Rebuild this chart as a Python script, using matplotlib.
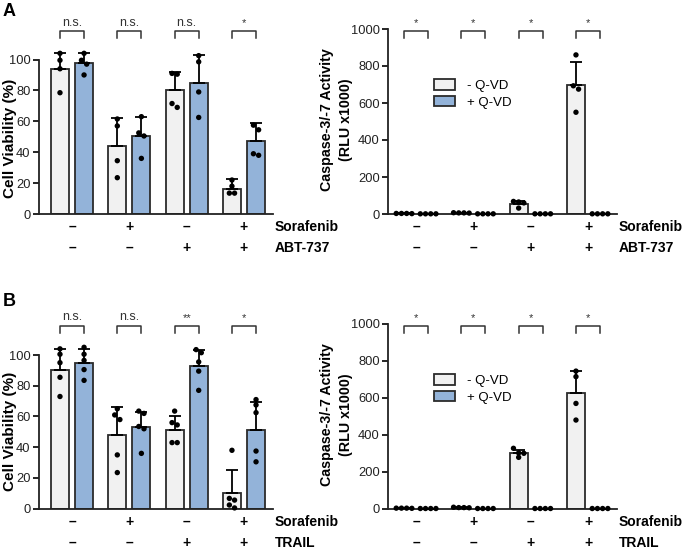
import matplotlib
matplotlib.use('Agg')
import matplotlib.pyplot as plt
from matplotlib.patches import Patch
import numpy as np

plt.rcParams['font.family'] = ['Liberation Sans', 'DejaVu Sans']

# ---------------- data ----------------
groups = 4
a_sorafenib = ['–', '+', '–', '+']
a_abt737 = ['–', '–', '+', '+']
b_sorafenib = ['–', '+', '–', '+']
b_trail = ['–', '–', '+', '+']

# Panel A, cell viability (%)
a_via_mean_neg = [94, 44, 80, 16]
a_via_sd_neg = [10, 18, 12, 6.5]
a_via_pts_neg = [[104, 99.5, 94, 78.5], [61.5, 57, 34.5, 23.5],
                 [91, 90.5, 71.5, 69], [22, 18, 13.5, 13.5]]
a_via_mean_pos = [97.5, 50.5, 85, 47]
a_via_sd_pos = [6.5, 12, 18, 12]
a_via_pts_pos = [[104, 99.5, 97, 90], [63, 52.5, 50.5, 36],
                 [102.5, 98.5, 79, 62.5], [57.5, 54.5, 39, 38]]
a_via_sig = ['n.s.', 'n.s.', 'n.s.', '*']

# Panel A, caspase-3/-7 activity (RLU x1000)
a_cas_mean_neg = [3, 6, 54, 695]
a_cas_sd_neg = [1, 2, 17, 128]
a_cas_pts_neg = [[3, 3, 2, 3], [7, 6, 5, 6], [68, 65, 60, 32], [860, 693, 675, 550]]
a_cas_mean_pos = [1, 1, 1, 1]
a_cas_sd_pos = [0, 0, 0, 0]
a_cas_pts_pos = [[1, 1, 1, 1], [1, 1, 1, 1], [1, 1, 1, 1], [1, 1, 1, 1]]
a_cas_sig = ['*', '*', '*', '*']

# Panel B, cell viability (%)
b_via_mean_neg = [90, 48, 51.5, 10.5]
b_via_sd_neg = [14, 18, 9, 15]
b_via_pts_neg = [[104, 100.5, 95, 85.5, 73], [65, 61, 58, 35, 23.5],
                 [63.5, 56, 54.5, 43, 43], [38, 6.7, 5.6, 2.4, 0.5]]
b_via_mean_pos = [95, 53, 93, 51.5]
b_via_sd_pos = [9, 10, 10, 18]
b_via_pts_pos = [[105, 100.5, 96.5, 90.5, 83.5], [63.5, 62, 53.5, 52, 36],
                 [103.5, 101.5, 95.5, 89.5, 77], [71, 67.5, 62.5, 37.5, 30.5]]
b_via_sig = ['n.s.', 'n.s.', '**', '*']

# Panel B, caspase-3/-7 activity (RLU x1000)
b_cas_mean_neg = [3, 6, 300, 627]
b_cas_sd_neg = [1, 2, 18, 117]
b_cas_pts_neg = [[3, 3, 2, 3], [8, 6, 5, 6], [327, 302, 300, 278], [745, 715, 570, 480]]
b_cas_mean_pos = [1, 1, 1, 1]
b_cas_sd_pos = [0, 0, 0, 0]
b_cas_pts_pos = [[1, 1, 1, 1], [1, 1, 1, 1], [1, 1, 1, 1], [1, 1, 1, 1]]
b_cas_sig = ['*', '*', '*', '*']

legend_labels = ['- Q-VD', '+ Q-VD']

# ---------------- style ----------------
W, H = 685, 550
C_NEG = '#f1f1f1'
C_POS = '#93b3d9'
EDGE = '#2b2b2b'
OFF = 0.21
BW = 0.314
DOT_PX = 5.2

fig = plt.figure(figsize=(W / 100, H / 100), dpi=100)


def make_axes(x0, x1, zero_y, ppu, ytop, xl):
    ax = fig.add_axes([x0 / W, 1 - zero_y / H, (x1 - x0) / W, ytop * ppu / H])
    ax.set_xlim(*xl)
    ax.set_ylim(0, ytop)
    return ax


def swarm_x(ax, xc, vals):
    # place dots centred; dots that collide vertically are spread horizontally
    pix = [ax.transData.transform((xc, v)) for v in vals]
    order = np.argsort([-v for v in vals])
    rows = []
    for i in order:
        y = pix[i][1]
        if rows and abs(pix[rows[-1][0]][1] - y) < DOT_PX:
            rows[-1].append(i)
        else:
            rows.append([i])
    xs = [xc] * len(vals)
    for r in rows:
        n = len(r)
        for k, i in enumerate(r):
            px = pix[i][0] + (k - (n - 1) / 2) * DOT_PX
            xs[i] = ax.transData.inverted().transform((px, pix[i][1]))[0]
    return xs


def draw_panel(ax, means, sds, pts, ytop_spine, yticks, sig, ppu,
               row1, row2, name1, name2, ylabel_lines, ylab_x, ylab_y, ylab_fs):
    xs = np.arange(groups)
    for j, (m, s, p, col) in enumerate([(means[0], sds[0], pts[0], C_NEG),
                                        (means[1], sds[1], pts[1], C_POS)]):
        xx = xs + (OFF if j else -OFF)
        ax.bar(xx, m, width=BW, color=col, edgecolor=EDGE, linewidth=1.3, zorder=2)
        ax.errorbar(xx, m, yerr=[np.zeros(groups), s], fmt='none', ecolor='black',
                    elinewidth=1.3, capsize=4.5, capthick=1.3, zorder=3)
        for g in range(groups):
            dx = swarm_x(ax, xx[g], p[g])
            ax.scatter(dx, p[g], s=15, color='black', edgecolor='none', zorder=4,
                       clip_on=False)
    for s_ in ['top', 'right']:
        ax.spines[s_].set_visible(False)
    ax.spines['left'].set_bounds(0, ytop_spine)
    for s_ in ['left', 'bottom']:
        ax.spines[s_].set_linewidth(1.3)
        ax.spines[s_].set_color('#222222')
    ax.set_yticks(yticks)
    ax.set_yticklabels([str(t) for t in yticks], fontsize=9.3, color='#222222')
    ax.tick_params(axis='y', length=4, width=1.2, pad=2)
    ax.set_xticks([])
    # significance brackets
    top = 183 / ppu
    leg = 7 / ppu
    for g in range(groups):
        x0, x1 = g - OFF, g + OFF
        ax.plot([x0, x0, x1, x1], [top - leg, top, top, top - leg], color='#333333',
                lw=1.1, clip_on=False, zorder=5)
        fs = 9 if sig[g] == 'n.s.' else 8
        ax.text(g, top + 2.5 / ppu, sig[g], ha='center', va='bottom', fontsize=fs,
                color='#333333')
    # +/- rows
    for g in range(groups):
        for lab, dy in ((row1[g], -13), (row2[g], -34)):
            ax.annotate(lab, xy=(g, 0), xycoords=('data', 'axes fraction'),
                        xytext=(0, dy * 0.72), textcoords='offset points',
                        ha='center', va='center', fontsize=10, fontweight='bold')
    for lab, dy in ((name1, -13), (name2, -34)):
        ax.annotate(lab, xy=(1, 0), xycoords='axes fraction',
                    xytext=(2 * 0.72, dy * 0.72), textcoords='offset points',
                    ha='left', va='center', fontsize=10, fontweight='bold')
    for k, line in enumerate(ylabel_lines):
        fig.text(ylab_x[k] / W, 1 - ylab_y / H, line, rotation=90, ha='center',
                 va='center', fontsize=ylab_fs, fontweight='bold')


XL_L = (-0.576, 3.506)
XL_R = (-0.49, 3.506)

axA1 = make_axes(39, 273, 214, 1.545, 130, XL_L)
axA2 = make_axes(388, 617, 214, 0.185, 1100, XL_R)
axB1 = make_axes(39, 273, 508.7, 1.537, 130, XL_L)
axB2 = make_axes(388, 617, 508.7, 0.1847, 1100, XL_R)

draw_panel(axA1, (a_via_mean_neg, a_via_mean_pos), (a_via_sd_neg, a_via_sd_pos),
           (a_via_pts_neg, a_via_pts_pos), 100, [0, 20, 40, 60, 80, 100], a_via_sig,
           1.545, a_sorafenib, a_abt737, 'Sorafenib', 'ABT-737',
           ['Cell Viability (%)'], [10], 138, 11)
draw_panel(axA2, (a_cas_mean_neg, a_cas_mean_pos), (a_cas_sd_neg, a_cas_sd_pos),
           (a_cas_pts_neg, a_cas_pts_pos), 1000, [0, 200, 400, 600, 800, 1000],
           a_cas_sig, 0.185, a_sorafenib, a_abt737, 'Sorafenib', 'ABT-737',
           ['Caspase-3/-7 Activity', '(RLU x1000)'], [327, 346], 120, 10.3)
draw_panel(axB1, (b_via_mean_neg, b_via_mean_pos), (b_via_sd_neg, b_via_sd_pos),
           (b_via_pts_neg, b_via_pts_pos), 100, [0, 20, 40, 60, 80, 100], b_via_sig,
           1.537, b_sorafenib, b_trail, 'Sorafenib', 'TRAIL',
           ['Cell Viability (%)'], [10], 431, 11)
draw_panel(axB2, (b_cas_mean_neg, b_cas_mean_pos), (b_cas_sd_neg, b_cas_sd_pos),
           (b_cas_pts_neg, b_cas_pts_pos), 1000, [0, 200, 400, 600, 800, 1000],
           b_cas_sig, 0.1847, b_sorafenib, b_trail, 'Sorafenib', 'TRAIL',
           ['Caspase-3/-7 Activity', '(RLU x1000)'], [327, 346], 415, 10.3)

handles = [Patch(facecolor=C_NEG, edgecolor=EDGE, linewidth=1.3),
           Patch(facecolor=C_POS, edgecolor=EDGE, linewidth=1.3)]
for ytopleg in (79, 374):
    fig.legend(handles, legend_labels, loc='upper left',
               bbox_to_anchor=(434 / W, 1 - ytopleg / H), frameon=False,
               fontsize=9.5, borderpad=0, borderaxespad=0, handlelength=1.6,
               handleheight=0.85, handletextpad=0.9, labelspacing=0.3)

fig.text(3 / W, 1 - 3 / H, 'A', fontsize=13, fontweight='bold', ha='left', va='top')
fig.text(3 / W, 1 - 293 / H, 'B', fontsize=13, fontweight='bold', ha='left', va='top')

fig.savefig('out.png', dpi=100)
